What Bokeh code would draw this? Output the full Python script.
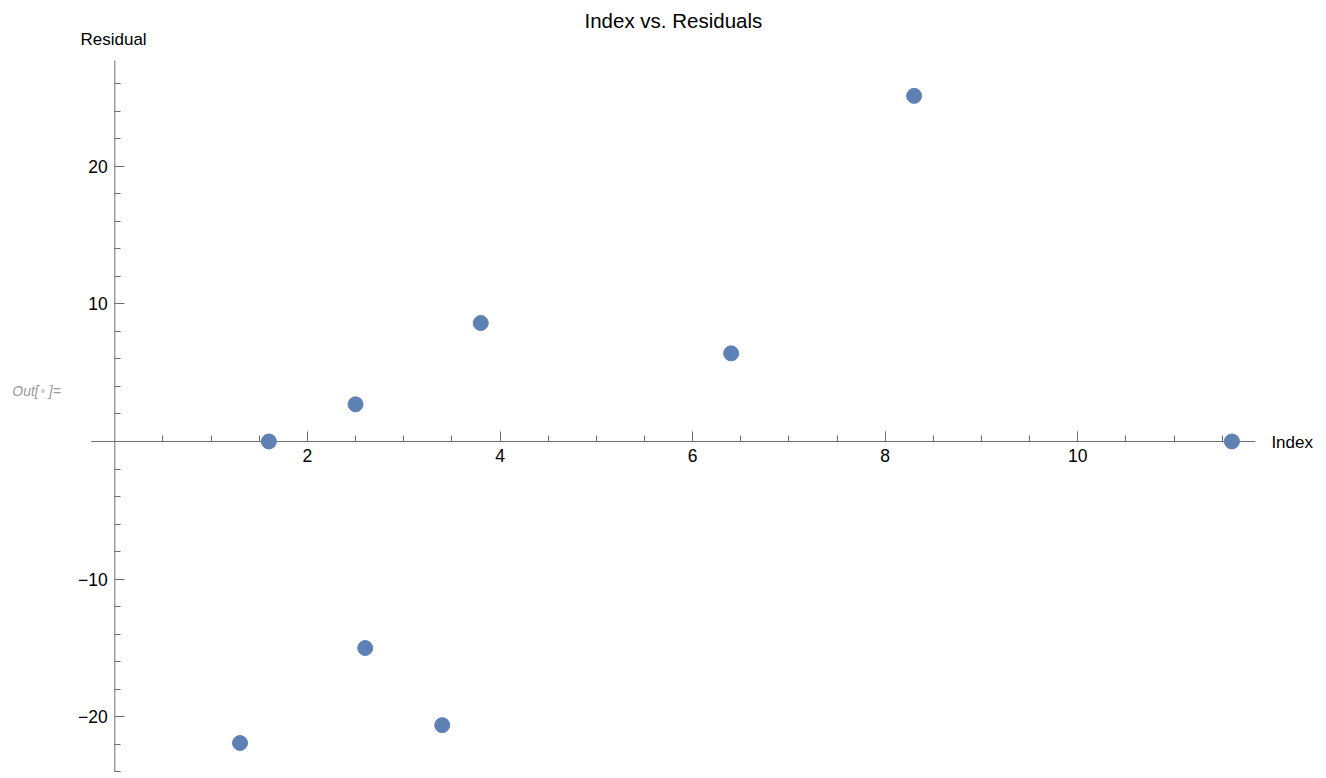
from bokeh.plotting import figure
from bokeh.models import LinearAxis, FixedTicker, Label, Range1d, CustomJSTickFormatter
from bokeh.embed import file_html
from bokeh.resources import INLINE

# ---- data ----
index_vals = [1.3, 1.6, 2.5, 2.6, 3.4, 3.8, 6.4, 8.3, 11.6]
residuals = [-21.9, 0.0, 2.7, -15.0, -20.6, 8.6, 6.4, 25.1, 0.0]

x_major = [2, 4, 6, 8, 10]
x_minor = [0.5, 1, 1.5, 2.5, 3, 3.5, 4.5, 5, 5.5, 6.5, 7, 7.5, 8.5, 9, 9.5, 10.5, 11, 11.5]
y_major = [-20, -10, 10, 20]
y_minor = [-24, -22, -18, -16, -14, -12, -8, -6, -4, -2, 2, 4, 6, 8, 12, 14, 16, 18, 22, 24, 26]

title_text = "Index vs. Residuals"
x_label = "Index"
y_label = "Residual"
out_parts = ["Out[ ", "\u2022", " ]="]

# axis line extents (plot range of the original)
x_axis_span = (-0.245, 11.845)
y_axis_span = (-24.04, 27.67)

FONT = "Liberation Sans"
AXIS_COLOR = "#6e6e6e"
POINT_COLOR = "#5e81b5"

p = figure(width=1320, height=772, output_backend="svg", toolbar_location=None,
           tools="", x_axis_location=None, y_axis_location=None,
           x_range=Range1d(-1.187, 12.520), y_range=Range1d(-24.04, 32.026),
           min_border_left=0, min_border_right=0, min_border_top=0, min_border_bottom=0)
p.grid.visible = False
p.outline_line_color = None
p.background_fill_color = "white"
p.border_fill_color = "white"

# axis lines with the original's extents
p.segment(x0=[x_axis_span[0]], y0=[0], x1=[x_axis_span[1]], y1=[0], line_color=AXIS_COLOR, line_width=1)
p.segment(x0=[0], y0=[y_axis_span[0]], x1=[0], y1=[y_axis_span[1]], line_color=AXIS_COLOR, line_width=1)

def style_axis(ax):
    ax.axis_line_color = None
    ax.major_tick_line_color = AXIS_COLOR
    ax.minor_tick_line_color = AXIS_COLOR
    ax.major_tick_in = 10
    ax.major_tick_out = 0
    ax.minor_tick_in = 6
    ax.minor_tick_out = 0
    ax.major_label_text_font = FONT
    ax.major_label_text_font_size = "17.5px"
    ax.major_label_text_color = "#000000"

fmt_js = "return tick < 0 ? '\\u2212' + Math.abs(tick).toString() : tick.toString();"

xax = LinearAxis(fixed_location=0, ticker=FixedTicker(ticks=x_major, minor_ticks=x_minor))
style_axis(xax)
xax.major_label_standoff = 8
p.add_layout(xax, "below")

yax = LinearAxis(fixed_location=0, ticker=FixedTicker(ticks=y_major, minor_ticks=y_minor),
                 formatter=CustomJSTickFormatter(code=fmt_js))
style_axis(yax)
yax.major_label_standoff = 7
p.add_layout(yax, "left")

p.scatter(index_vals, residuals, size=15, fill_color=POINT_COLOR, line_color=POINT_COLOR)

p.add_layout(Label(x=5.80, y=30.55, text=title_text, text_align="center", text_baseline="middle",
                   text_font=FONT, text_font_size="20.5px", text_color="#000000"))
p.add_layout(Label(x=-0.013, y=29.20, text=y_label, text_align="center", text_baseline="middle",
                   text_font=FONT, text_font_size="17px", text_color="#000000"))
p.add_layout(Label(x=12.01, y=-0.04, text=x_label, text_align="left", text_baseline="middle",
                   text_font=FONT, text_font_size="17px", text_color="#000000"))
# "Out[ • ]=" prompt, with a lighter bullet
p.add_layout(Label(x=-1.065, y=3.63, text=out_parts[0], text_align="left", text_baseline="middle",
                   text_font=FONT, text_font_size="14px", text_font_style="italic", text_color="#9a9a9a"))
p.add_layout(Label(x=-0.745, y=3.63, text=out_parts[1], text_align="center", text_baseline="middle",
                   text_font=FONT, text_font_size="14px", text_color="#d0d0d0"))
p.add_layout(Label(x=-0.52, y=3.63, text=out_parts[2], text_align="right", text_baseline="middle",
                   text_font=FONT, text_font_size="14px", text_font_style="italic", text_color="#9a9a9a"))

open("out.html", "w").write(file_html(p, INLINE))
